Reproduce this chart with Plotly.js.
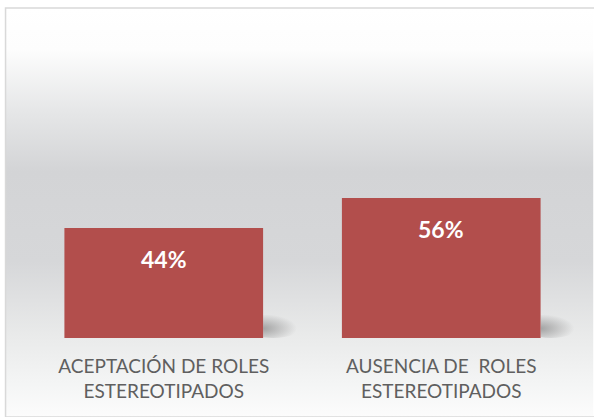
<!DOCTYPE html>
<html><head><meta charset="utf-8">
<script src="https://cdn.plot.ly/plotly-3.0.1.min.js"></script>
<style>html,body{margin:0;padding:0;background:#fff}#c{width:594px;height:417px}</style>
</head><body><div id="c"></div>
<script>
const categories = ["ACEPTACIÓN DE ROLES<br>ESTEREOTIPADOS", "AUSENCIA DE  ROLES<br>ESTEREOTIPADOS"];
const values = [44, 56];
const labels = ["44%", "56%"];

const grad = '<svg xmlns="http://www.w3.org/2000/svg" width="100" height="409" preserveAspectRatio="none">' +
 '<defs><linearGradient id="g" x1="0" y1="0" x2="0" y2="1">' +
 '<stop offset="0" stop-color="#ffffff"/><stop offset="0.1" stop-color="#fdfdfd"/>' +
 '<stop offset="0.25" stop-color="#e6e7e8"/><stop offset="0.4" stop-color="#d3d4d6"/>' +
 '<stop offset="0.62" stop-color="#d6d7d9"/><stop offset="0.8" stop-color="#e9eaea"/>' +
 '<stop offset="0.92" stop-color="#f4f5f5"/><stop offset="1" stop-color="#fcfcfc"/>' +
 '</linearGradient></defs><rect width="100" height="409" fill="url(#g)"/></svg>';
const src = 'data:image/svg+xml;base64,' + btoa(grad);

const shadowSvg = '<svg xmlns="http://www.w3.org/2000/svg" width="40" height="30" preserveAspectRatio="none">' +
 '<defs><radialGradient id="s" cx="0.3" cy="0.6" r="0.6"><stop offset="0" stop-color="#8a8a8a" stop-opacity="0.75"/>' +
 '<stop offset="1" stop-color="#8a8a8a" stop-opacity="0"/></radialGradient></defs>' +
 '<ellipse cx="10" cy="19" rx="28" ry="11" fill="url(#s)"/></svg>';
const shadowSrc = 'data:image/svg+xml;base64,' + btoa(shadowSvg);

const L = 24.5, R = 13.5, T = 30, B = 79, W = 594, H = 417;
const pw = W - L - R, ph = H - T - B;

const images = [{source: src, xref: 'paper', yref: 'paper', x: (5 - L) / pw, y: (H - B - 8) / ph,
    sizex: (W - 5) / pw, sizey: (H - 8) / ph, sizing: 'stretch', xanchor: 'left', yanchor: 'top', layer: 'below'}];
values.forEach((v, i) => images.push({source: shadowSrc, xref: 'x', yref: 'y', x: i + 0.358, y: 0,
  sizex: 0.15, sizey: 13, sizing: 'stretch', xanchor: 'left', yanchor: 'bottom', layer: 'below'}));

Plotly.newPlot('c', [{
  type: 'bar', x: categories, y: values,
  marker: {color: '#B24E4C'},
  hoverinfo: 'none'
}], {
  width: W, height: H,
  margin: {l: L, r: R, t: T, b: B, pad: 0},
  paper_bgcolor: '#ffffff', plot_bgcolor: 'rgba(0,0,0,0)',
  bargap: 0.284,
  showlegend: false,
  font: {family: 'Lato, "Open Sans", sans-serif'},
  xaxis: {tickfont: {size: 19, color: '#5f5f5f'}, showline: false, ticks: 'outside', ticklen: 11, tickcolor: 'rgba(0,0,0,0)', fixedrange: true},
  yaxis: {range: [0, ph / 2.5], visible: false, fixedrange: true},
  images: images,
  shapes: [{type: 'rect', xref: 'paper', yref: 'paper', x0: (5 - L) / pw, x1: (W + 2 - L) / pw,
    y0: (H - B - 417) / ph, y1: (H - B - 8) / ph, line: {color: '#d9d9d9', width: 1.5}, fillcolor: 'rgba(0,0,0,0)', layer: 'above'}],
  annotations: categories.map((c, i) => ({x: c, y: values[i], text: '<b>' + labels[i] + '</b>', showarrow: false,
    yanchor: 'middle', yshift: -31, font: {size: 23, color: '#ffffff'}}))
}, {displayModeBar: false, staticPlot: true});
</script></body></html>
